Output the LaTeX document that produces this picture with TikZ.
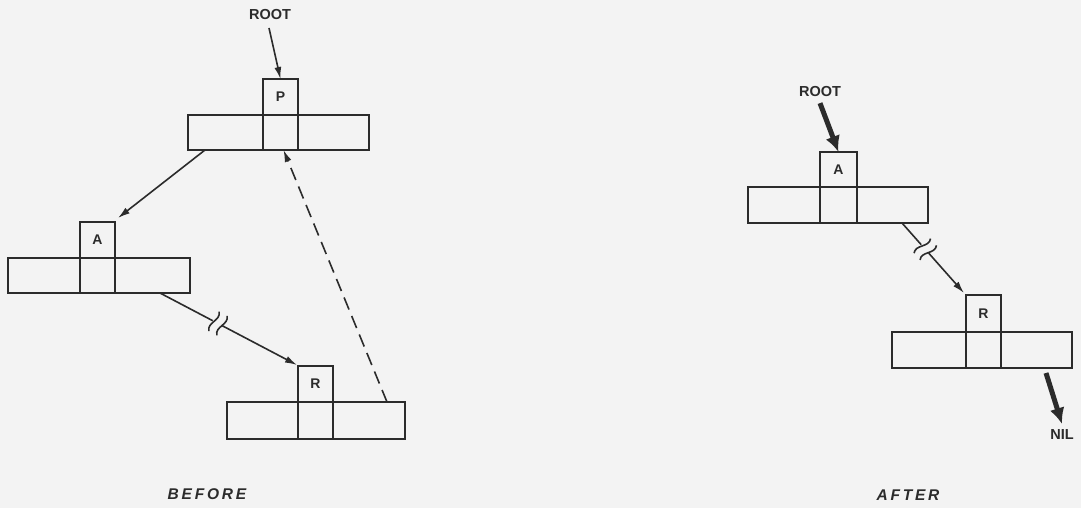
\documentclass[tikz,border=0pt]{standalone}
\usepackage{fontspec}
\setmainfont{Liberation Sans}
\usetikzlibrary{arrows.meta,calc}
\definecolor{ink}{HTML}{2B2B2B}
\definecolor{paper}{HTML}{F3F3F3}
\begin{document}
\begin{tikzpicture}[x=1pt,y=-1pt,
  every node/.style={inner sep=0pt,outer sep=0pt,text=ink},
  cell/.style={draw=ink,line width=1.8pt,minimum width=35pt,minimum height=36pt,font=\bfseries\fontsize{14}{14}\selectfont},
  rowbox/.style={draw=ink,line width=1.8pt,minimum width=181pt,minimum height=35pt,anchor=north west},
  lbl/.style={font=\bfseries\fontsize{14.5}{14.5}\selectfont},
  captxt/.style={font=\bfseries\itshape\fontsize{15.5}{15.5}\selectfont\addfontfeature{LetterSpace=18}},
  ptr/.style={draw=ink,line width=1.6pt,-{Latex[length=12pt,width=7pt]}},
  seg/.style={draw=ink,line width=1.6pt},
  dptr/.style={ptr,dash pattern=on 13pt off 7pt},
  fat/.style={draw=ink,line width=5pt,-{Latex[length=16pt,width=15pt]}},
  brk/.style={draw=ink,line width=1.6pt}]
\fill[paper] (0,0) rectangle (1081,508);
\useasboundingbox (0,0) rectangle (1081,508);

% ---------- BEFORE ----------
\node[lbl] (root1) at (270,15) {ROOT};
\node[rowbox] (Prow) at (188,115) {};
\node[cell,anchor=south west] (P) at (263,115) {P};
\node[cell,anchor=north west,minimum height=35pt] (Pm) at (263,115) {};

\node[rowbox,minimum width=182pt] (Arow) at (8,258) {};
\node[cell,anchor=south west] (A) at (80,258) {A};
\node[cell,anchor=north west,minimum height=35pt] (Am) at (80,258) {};

\node[rowbox,minimum width=178pt,minimum height=37pt] (Rrow) at (227,402) {};
\node[cell,anchor=south west] (R) at (298,402) {R};
\node[cell,anchor=north west,minimum height=37pt] (Rm) at (298,402) {};

\node[captxt] (before) at (207,494) {BEFORE};

\draw[ptr] (269,28) -- (P.north);
\draw[ptr] ([xshift=17pt]Prow.south west) -- ([xshift=3pt,yshift=4pt]A.north east);
\coordinate (s1) at ([xshift=-30pt]Arow.south east);
\coordinate (e1) at ([xshift=-1pt,yshift=1pt]R.north west);
\coordinate (g1) at ($(s1)!0.42!(e1)$);
\draw[seg] (s1) -- ($(s1)!0.385!(e1)$);
\draw[ptr] ($(s1)!0.455!(e1)$) -- (e1);
\begin{scope}[shift={(g1)},rotate=-27.7]
  \draw[brk] (-4,-11) .. controls (2,-4) and (-10,4) .. (-4,11);
  \draw[brk] (5,-11) .. controls (11,-4) and (-1,4) .. (5,11);
\end{scope}
\draw[dptr] ([xshift=-18pt]Rrow.north east) -- ([xshift=3pt]Pm.south);

% ---------- AFTER ----------
\node[lbl] (root2) at (820,92) {ROOT};
\node[rowbox,minimum width=180pt,minimum height=36pt] (A2row) at (748,187) {};
\node[cell,anchor=south west,minimum width=37pt,minimum height=35pt] (A2) at (820,187) {A};
\node[cell,anchor=north west,minimum width=37pt] (A2m) at (820,187) {};

\node[rowbox,minimum width=180pt,minimum height=36pt] (R2row) at (892,332) {};
\node[cell,anchor=south west,minimum height=37pt] (R2) at (966,332) {R};
\node[cell,anchor=north west,minimum height=36pt] (R2m) at (966,332) {};

\node[lbl] (nil) at (1062,435) {NIL};
\node[captxt] (after) at (908,495) {AFTER};

\draw[fat] ([yshift=-6pt]root2.south) -- (A2.north);
\coordinate (s2) at ([xshift=-26pt]A2row.south east);
\coordinate (e2) at ([xshift=-2pt,yshift=2pt]R2.north west);
\coordinate (g2) at ($(s2)!0.37!(e2)$);
\draw[seg] (s2) -- ($(s2)!0.31!(e2)$);
\draw[ptr] ($(s2)!0.43!(e2)$) -- (e2);
\begin{scope}[shift={(g2)},rotate=-48.5]
  \draw[brk] (-4,-11) .. controls (2,-4) and (-10,4) .. (-4,11);
  \draw[brk] (5,-11) .. controls (11,-4) and (-1,4) .. (5,11);
\end{scope}
\draw[fat] ([xshift=-26pt,yshift=-5pt]R2row.south east) -- ([yshift=6pt]nil.north);
\end{tikzpicture}
\end{document}
